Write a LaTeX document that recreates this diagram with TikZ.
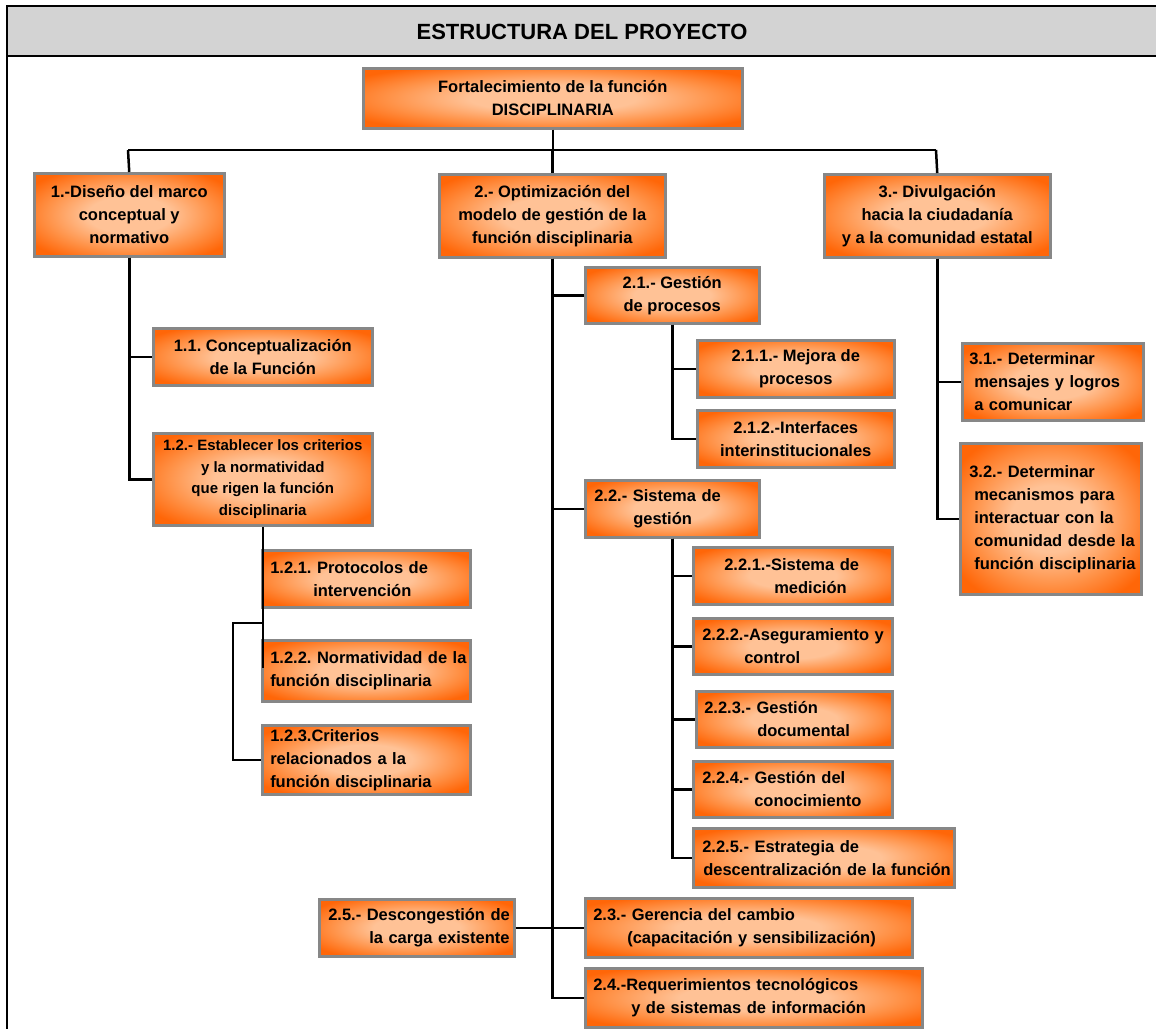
\documentclass[tikz,border=0pt]{standalone}
\usepackage{fontspec}
\setmainfont{Liberation Sans}
\definecolor{boxin}{RGB}{255,194,150}
\definecolor{boxmid}{RGB}{255,145,70}
\definecolor{boxout}{RGB}{255,102,8}
\definecolor{boxline}{RGB}{135,135,135}
\definecolor{headfill}{RGB}{211,211,211}
\pgfdeclareradialshading{orangebox}{\pgfpoint{0bp}{0bp}}{color(0bp)=(boxin); color(11bp)=(boxin); color(22bp)=(boxmid); color(31bp)=(boxout); color(50bp)=(boxout)}
\newcommand\bxl[2]{\hspace*{#1pt}\mbox{#2}}
\tikzset{
  box/.style={draw=boxline, line width=2.5pt, shading=orangebox, anchor=north west,
    inner xsep=4pt, inner ysep=1pt, font=\fontsize{16.5}{23}\selectfont\bfseries\frenchspacing, align=center},
  lbox/.style={box, align=left},
  conn/.style={line width=2.5pt, draw=black},
  thinconn/.style={line width=2pt, draw=black},
  frame/.style={line width=2.5pt, draw=black}
}
\begin{document}
\frenchspacing
\begin{tikzpicture}[x=1pt,y=-1pt]
\useasboundingbox (0,0) rectangle (1156,1029);
% header
\fill[headfill] (7,6) rectangle (1156,56);
\draw[frame] (1156,6) -- (7,6) -- (7,1029);
\draw[frame] (7,56) -- (1156,56);
\node[font=\fontsize{22}{26}\selectfont\bfseries] (title) at (582,32) {ESTRUCTURA DEL PROYECTO};

% level 0
\node[box, minimum width=379pt, minimum height=60pt] (root) at (362,67) {Fortalecimiento de la función\\DISCIPLINARIA};

% level 1
\node[box, minimum width=190pt, minimum height=83pt] (b1) at (33,172) {1.-Diseño del marco\\conceptual y\\normativo};
\node[box, minimum width=226pt, minimum height=83pt] (b2) at (438,173) {2.- Optimización del\\modelo de gestión de la\\función disciplinaria};
\node[box, minimum width=226pt, minimum height=83pt] (b3) at (823,173) {3.- Divulgación\\hacia la ciudadanía\\y a la comunidad estatal};

% branch 1
\node[box, minimum width=219pt, minimum height=57pt] (b11) at (152,327) {1.1. Conceptualización\\de la Función};
\node[box, minimum width=219pt, minimum height=92pt, font=\fontsize{15}{21.5}\selectfont\bfseries\frenchspacing] (b12) at (152,432) {1.2.- Establecer los criterios\\y  la normatividad\\que rigen  la función\\disciplinaria};
\node[lbox, minimum width=208pt, minimum height=57pt, text width=198pt] (b121) at (261,549) {\bxl{3}{1.2.1. Protocolos de}\\\bxl{46}{intervención}};
\node[lbox, minimum width=208pt, minimum height=61pt, text width=198pt] (b122) at (261,639) {\bxl{3}{1.2.2. Normatividad de la}\\\bxl{3}{función disciplinaria}};
\node[lbox, minimum width=208pt, minimum height=69pt, text width=198pt] (b123) at (261,724) {\bxl{3}{1.2.3.Criterios}\\\bxl{3}{relacionados a la}\\\bxl{3}{función disciplinaria}};

% branch 2
\node[box, minimum width=174pt, minimum height=56pt] (b21) at (584,266) {2.1.- Gestión\\de procesos};
\node[box, minimum width=197pt, minimum height=57pt] (b211) at (696,339) {2.1.1.- Mejora de\\procesos};
\node[box, minimum width=197pt, minimum height=57pt] (b212) at (696,409) {2.1.2.-Interfaces\\interinstitucionales};
\node[lbox, minimum width=174pt, minimum height=57pt, text width=164pt] (b22) at (584,479) {\bxl{4}{2.2.- Sistema de}\\\bxl{43}{gestión}};
\node[lbox, minimum width=199pt, minimum height=57pt, text width=189pt] (b221) at (692,546) {\bxl{26}{2.2.1.-Sistema de}\\\bxl{76}{medición}};
\node[lbox, minimum width=199pt, minimum height=56pt, text width=189pt] (b222) at (692,617) {\bxl{4}{2.2.2.-Aseguramiento y}\\\bxl{46}{control}};
\node[lbox, minimum width=196pt, minimum height=56pt, text width=186pt] (b223) at (695,690) {\bxl{3}{2.2.3.- Gestión}\\\bxl{56}{documental}};
\node[lbox, minimum width=199pt, minimum height=56pt, text width=189pt] (b224) at (692,760) {\bxl{4}{2.2.4.- Gestión del}\\\bxl{56}{conocimiento}};
\node[lbox, minimum width=261pt, minimum height=59pt, text width=251pt] (b225) at (692,827) {\bxl{4}{2.2.5.- Estrategia de}\\\bxl{5}{descentralización de la función}};
\node[lbox, minimum width=327pt, minimum height=59pt, text width=317pt] (b23) at (584,897) {\bxl{3}{2.3.- Gerencia del  cambio}\\\bxl{37}{(capacitación y sensibilización)}};
\node[lbox, minimum width=337pt, minimum height=59pt, text width=327pt] (b24) at (584,967) {\bxl{3}{2.4.-Requerimientos tecnológicos}\\\bxl{41}{y de sistemas de información}};
\node[lbox, minimum width=195pt, minimum height=57pt, text width=185pt] (b25) at (318,898) {\bxl{4}{2.5.- Descongestión de}\\\bxl{45}{la carga existente}};

% branch 3
\node[lbox, minimum width=181pt, minimum height=77pt, text width=171pt] (b31) at (961,342) {\bxl{2}{3.1.- Determinar}\\\bxl{7}{mensajes y logros}\\\bxl{7}{a comunicar}};
\node[lbox, minimum width=181pt, minimum height=151pt, text width=171pt] (b32) at (959,442) {\bxl{4}{3.2.- Determinar}\\\bxl{9}{mecanismos para}\\\bxl{9}{interactuar con la}\\\bxl{9}{comunidad desde la}\\\bxl{9}{función disciplinaria}};

% connectors
\coordinate (busL) at (128,150);
\coordinate (busR) at (936,150);
\draw[conn] (root.south) -- (root.south |- busL);
\draw[conn] (busL) -- (busR);
\draw[conn] (busL) -- (b1.north);
\draw[conn] (b2.north |- busL) -- (b2.north);
\draw[conn] (busR) -- (b3.north);

\draw[conn] (b1.south) |- (b11.west);
\draw[conn] (b1.south) |- (b12.west);
\coordinate (s12e) at (262,668);
\coordinate (s12b) at (262,623);
\draw[conn] (b12.south) -- (b12.south |- s12e);
\draw[thinconn] (b12.south |- s12b) -- ++(-30,0) |- (b123.west);

\draw[conn] (b2.south) |- (b21.west);
\draw[conn] (b2.south) |- (b22.west);
\draw[conn] (b2.south) |- (b23.west);
\draw[conn] (b2.south) |- (b24.west);
\draw[conn] (b25.east) -- (b23.west);

\draw[conn] (b21.south) |- (b211.west);
\draw[conn] (b21.south) |- (b212.west);

\draw[conn] (b22.south) |- (b221.west);
\draw[conn] (b22.south) |- (b222.west);
\draw[conn] (b22.south) |- (b223.west);
\draw[conn] (b22.south) |- (b224.west);
\draw[conn] (b22.south) |- (b225.west);

\draw[conn] (b3.south) |- (b31.west);
\draw[conn] (b3.south) |- (b32.west);
\end{tikzpicture}
\end{document}
